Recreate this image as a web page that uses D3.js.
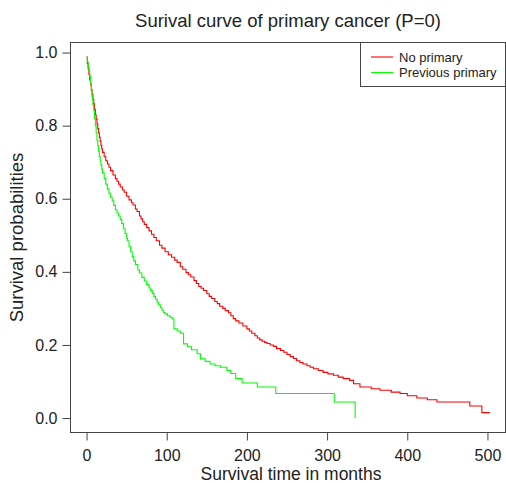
<!DOCTYPE html>
<html>
<head>
<meta charset="utf-8">
<script src="https://cdn.jsdelivr.net/npm/d3@7"></script>
<style>
  body { margin: 0; background: #fff; }
  svg { display: block; font-family: "Liberation Sans", Arial, Helvetica, sans-serif; }
  .axis text { fill: #222; font-size: 16px; }
  .axis line { stroke: #444; }
</style>
</head>
<body>
<div id="chart"></div>
<script>
// ========== Data ==========
const seriesNames = ['No primary', 'Previous primary'];
const seriesColors = ['#ff0000', '#00ff00'];

// No primary (months, survival)
const noPrimaryTime = [0, 1, 2, 3, 4, 5, 6, 7, 8, 9, 10, 11, 12, 13, 14, 15, 16, 17, 18, 19,
  20, 22, 24, 26, 28, 30, 33, 36, 38, 40, 42, 45, 47, 50, 53, 56, 58, 61, 63, 66,
  68, 70, 72, 75, 78, 81, 84, 87, 91, 94, 98, 102, 106, 110, 113, 117, 120, 124, 127, 130,
  134, 137, 140, 143, 146, 150, 153, 156, 160, 163, 166, 170, 173, 177, 180, 183, 186, 190, 195, 200,
  203, 206, 210, 213, 216, 219, 222, 225, 229, 233, 237, 242, 246, 250, 254, 258, 262, 266, 270, 275,
  279, 283, 289, 295, 301, 308, 314, 320, 328, 333, 341, 355, 366, 380, 391, 400, 412, 425, 437, 478,
  493, 503];
const noPrimarySurv = [0.988, 0.97, 0.955, 0.94, 0.925, 0.912, 0.898, 0.885, 0.872, 0.86, 0.845, 0.83, 0.818, 0.805, 0.792, 0.78, 0.768, 0.757, 0.746, 0.736,
  0.727, 0.715, 0.704, 0.695, 0.686, 0.677, 0.665, 0.655, 0.648, 0.64, 0.632, 0.624, 0.618, 0.607, 0.597, 0.589, 0.583, 0.572, 0.565, 0.553,
  0.545, 0.537, 0.53, 0.521, 0.512, 0.503, 0.494, 0.485, 0.473, 0.465, 0.455, 0.447, 0.44, 0.432, 0.426, 0.414, 0.407, 0.398, 0.392, 0.386,
  0.376, 0.368, 0.36, 0.355, 0.349, 0.34, 0.333, 0.327, 0.319, 0.313, 0.306, 0.3, 0.294, 0.288, 0.28, 0.272, 0.266, 0.26, 0.252, 0.244,
  0.238, 0.232, 0.225, 0.219, 0.214, 0.21, 0.207, 0.204, 0.2, 0.196, 0.19, 0.185, 0.18, 0.174, 0.168, 0.163, 0.157, 0.152, 0.148, 0.143,
  0.139, 0.135, 0.13, 0.125, 0.121, 0.117, 0.112, 0.108, 0.103, 0.094, 0.085, 0.08, 0.076, 0.071, 0.067, 0.061, 0.055, 0.05, 0.044, 0.033,
  0.015, 0.015];

// Previous primary (months, survival)
const prevPrimaryTime = [0, 1, 2, 3, 4, 5, 6, 7, 8, 9, 10, 11, 12, 13, 14, 15, 16, 17, 18, 19,
  20, 22, 24, 26, 28, 30, 32, 34, 36, 38, 40, 42, 44, 46, 48, 50, 51, 53, 55, 57,
  59, 61, 64, 66, 69, 72, 75, 78, 80, 82, 84, 86, 88, 90, 92, 94, 96, 98, 101, 104,
  107, 109, 113, 117, 121, 126, 131, 138, 142, 148, 154, 160, 167, 175, 180, 186, 194, 213, 236, 309,
  335];
const prevPrimarySurv = [0.988, 0.975, 0.962, 0.95, 0.935, 0.915, 0.895, 0.876, 0.858, 0.84, 0.82, 0.8, 0.78, 0.76, 0.745, 0.73, 0.716, 0.703, 0.692, 0.681,
  0.67, 0.655, 0.64, 0.627, 0.615, 0.604, 0.594, 0.582, 0.57, 0.561, 0.553, 0.543, 0.532, 0.518, 0.505, 0.492, 0.485, 0.47, 0.455, 0.442,
  0.43, 0.42, 0.405, 0.397, 0.385, 0.375, 0.365, 0.356, 0.349, 0.341, 0.333, 0.325, 0.317, 0.31, 0.302, 0.295, 0.289, 0.285, 0.28, 0.276,
  0.271, 0.244, 0.238, 0.232, 0.203, 0.195, 0.187, 0.176, 0.162, 0.155, 0.148, 0.143, 0.139, 0.13, 0.122, 0.108, 0.096, 0.085, 0.067, 0.044,
  0];

const xTicks = [0, 100, 200, 300, 400, 500];
const yTicks = [0, 0.2, 0.4, 0.6, 0.8, 1.0];

const titleText = 'Surival curve of primary cancer (P=0)';
const xLabel = 'Survival time in months';
const yLabel = 'Survival probabilities';

// ========== Layout ==========
const width = 506, height = 483;
const plot = {left: 70.5, right: 505.5, top: 42.5, bottom: 432.5};

const svg = d3.select('#chart')
  .append('svg')
  .attr('width', width)
  .attr('height', height);

// ========== Scales ==========
// R style: data range padded by 4% each side
const x = d3.scaleLinear()
  .domain([-20, 522.5])
  .range([plot.left, plot.right]);

const y = d3.scaleLinear()
  .domain([-0.0395, 1.0275])
  .range([plot.bottom, plot.top]);

// ========== Axes ==========
svg.append('g')
  .attr('class', 'axis')
  .attr('transform', `translate(0, ${plot.bottom})`)
  .call(d3.axisBottom(x).tickValues(xTicks).tickSize(8).tickPadding(9.5).tickFormat(d3.format('d')))
  .call(g => g.select('.domain').remove())
  .call(g => g.selectAll('text').attr('font-family', null));

svg.append('g')
  .attr('class', 'axis')
  .attr('transform', `translate(${plot.left}, 0)`)
  .call(d3.axisLeft(y).tickValues(yTicks).tickSize(8).tickPadding(5).tickFormat(d3.format('.1f')))
  .call(g => g.select('.domain').remove())
  .call(g => g.selectAll('text').attr('font-family', null));

// ========== Box ==========
svg.append('rect')
  .attr('x', plot.left)
  .attr('y', plot.top)
  .attr('width', plot.right - plot.left)
  .attr('height', plot.bottom - plot.top)
  .attr('fill', 'none')
  .attr('stroke', '#444');

// ========== Curves ==========
const line = d3.line()
  .x(d => x(d[0]))
  .y(d => y(d[1]))
  .curve(d3.curveStepAfter);

const curves = [
  d3.zip(noPrimaryTime, noPrimarySurv),
  d3.zip(prevPrimaryTime, prevPrimarySurv)
];

svg.append('g')
  .selectAll('path')
  .data(curves)
  .join('path')
    .attr('d', line)
    .attr('fill', 'none')
    .attr('stroke', (d, i) => seriesColors[i])
    .attr('stroke-width', 1.1);

// ========== Titles ==========
svg.append('text')
  .attr('x', (plot.left + plot.right) / 2)
  .attr('y', 27)
  .attr('text-anchor', 'middle')
  .attr('font-size', 18.5)
  .attr('fill', '#222')
  .text(titleText);

svg.append('text')
  .attr('x', (plot.left + plot.right) / 2 + 3)
  .attr('y', 479.5)
  .attr('text-anchor', 'middle')
  .attr('font-size', 17.5)
  .attr('fill', '#222')
  .text(xLabel);

svg.append('text')
  .attr('transform', `translate(23, ${(plot.top + plot.bottom) / 2}) rotate(-90)`)
  .attr('text-anchor', 'middle')
  .attr('font-size', 18.5)
  .attr('fill', '#222')
  .text(yLabel);

// ========== Legend ==========
const legend = svg.append('g');

legend.append('rect')
  .attr('x', 360.5)
  .attr('y', plot.top)
  .attr('width', plot.right - 360.5)
  .attr('height', 44)
  .attr('fill', '#fff')
  .attr('stroke', '#444');

const legendItems = legend.selectAll('g.item')
  .data(seriesNames)
  .join('g')
    .attr('class', 'item')
    .attr('transform', (d, i) => `translate(0, ${57 + i * 15.5})`);

legendItems.append('line')
  .attr('x1', 371)
  .attr('x2', 393)
  .attr('stroke', (d, i) => seriesColors[i])
  .attr('stroke-width', 1.1);

legendItems.append('text')
  .attr('x', 399)
  .attr('dy', '0.35em')
  .attr('font-size', 13)
  .attr('fill', '#222')
  .text(d => d);
</script>
</body>
</html>
